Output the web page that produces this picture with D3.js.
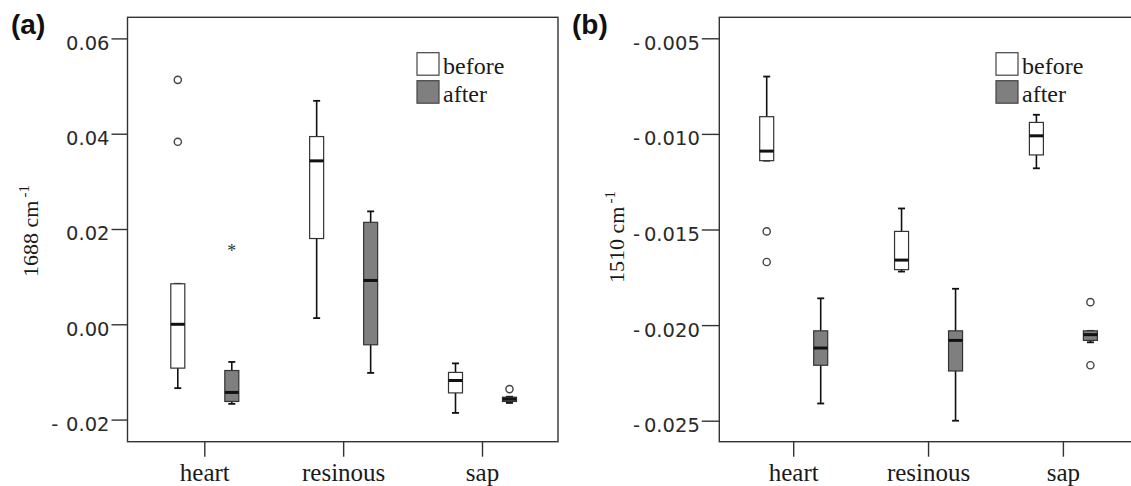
<!DOCTYPE html>
<html><head><meta charset="utf-8">
<script src="https://cdn.jsdelivr.net/npm/d3@7"></script>
<style>body{margin:0;background:#fff} svg{display:block}</style>
</head><body><svg id="c" width="1131" height="486"></svg>
<script>
const categories = ["heart","resinous","sap"];
const groups = ["before","after"];
// five-number summaries per category: [lower whisker, Q1, median, Q3, upper whisker]
const aBefore = [[-0.0134,-0.0092,0.0000,0.0085,0.0085],[0.0013,0.0180,0.0343,0.0394,0.0469],[-0.0186,-0.0144,-0.0118,-0.0101,-0.0082]];
const aAfter  = [[-0.0167,-0.0162,-0.0143,-0.0097,-0.0079],[-0.0102,-0.0043,0.0092,0.0214,0.0237],[-0.0165,-0.0162,-0.0157,-0.0153,-0.0152]];
const aOutliers = [["heart","before",0.0513,"circle"],["heart","before",0.0383,"circle"],["heart","after",0.0161,"star"],["sap","after",-0.0136,"circle"]];
const aTicks = [-0.02,0,0.02,0.04,0.06];
const aTickLabels = ["-\u2009\u20090.02","0.00","0.02","0.04","0.06"];
const bBefore = [[-0.0114,-0.0114,-0.0109,-0.0091,-0.0070],[-0.0172,-0.0171,-0.0166,-0.0151,-0.0139],[-0.0118,-0.0111,-0.0101,-0.0094,-0.0090]];
const bAfter  = [[-0.0241,-0.0221,-0.0212,-0.0203,-0.0186],[-0.0250,-0.0224,-0.0208,-0.0203,-0.0181],[-0.0209,-0.0208,-0.0205,-0.0203,-0.0203]];
const bOutliers = [["heart","before",-0.0151,"circle"],["heart","before",-0.0167,"circle"],["sap","after",-0.0188,"circle"],["sap","after",-0.0221,"circle"]];
const bTicks = [-0.025,-0.020,-0.015,-0.010,-0.005];
const bTickLabels = ["-\u20090.025","-\u20090.020","-\u20090.015","-\u20090.010","-\u20090.005"];

const svg = d3.select("#c");
const SERIF = "Liberation Serif, Times New Roman, serif";
const SANS = "DejaVu Sans, Verdana, sans-serif";

function panel(cfg, before, after, outliers, ticks, tickLabels) {
  const g = svg.append("g");
  const y = d3.scaleLinear().domain(cfg.yDomain).range([cfg.bottom, cfg.top]);
  const x = d3.scalePoint().domain(categories).range(cfg.xRange);
  const xo = d3.scalePoint().domain(groups).range([-26.5, 27.5]);

  g.append("rect").attr("x", cfg.left).attr("y", cfg.top)
    .attr("width", cfg.right - cfg.left).attr("height", cfg.bottom - cfg.top)
    .attr("fill", "#fff").attr("stroke", "#333").attr("stroke-width", 1.4);

  const ya = g.append("g").attr("transform", `translate(${cfg.left},0)`)
    .call(d3.axisLeft(y).tickValues(ticks).tickFormat((d, i) => tickLabels[i]).tickSize(cfg.tickLen).tickPadding(2));
  ya.select(".domain").remove();
  ya.selectAll("line").attr("stroke", "#333").attr("stroke-width", 1.4);
  ya.selectAll("text").attr("font-family", SANS).attr("font-size", 19.5).attr("fill", "#2a2a2a").attr("dy", "0.56em");

  const xa = g.append("g").attr("transform", `translate(0,${cfg.bottom})`)
    .call(d3.axisBottom(x).tickSize(15).tickPadding(6.5));
  xa.select(".domain").remove();
  xa.selectAll("line").attr("stroke", "#333").attr("stroke-width", 1.4);
  xa.selectAll("text").attr("font-family", SERIF).attr("font-size", 25).attr("fill", "#1a1a1a");

  [["before", before], ["after", after]].forEach(([grp, stats]) => {
    stats.forEach((s, i) => {
      const cx = x(categories[i]) + xo(grp);
      const [lo, q1, med, q3, hi] = s;
      const bg = g.append("g");
      bg.append("line").attr("x1", cx).attr("x2", cx).attr("y1", y(lo)).attr("y2", y(hi))
        .attr("stroke", "#111").attr("stroke-width", 1.6);
      [lo, hi].forEach(v => bg.append("line").attr("x1", cx - 3.5).attr("x2", cx + 3.5)
        .attr("y1", y(v)).attr("y2", y(v)).attr("stroke", "#111").attr("stroke-width", 1.8));
      bg.append("rect").attr("x", cx - 7).attr("y", y(q3)).attr("width", 14).attr("height", y(q1) - y(q3))
        .attr("fill", grp === "before" ? "#fff" : "#7f7f7f").attr("stroke", "#333").attr("stroke-width", 1.2);
      bg.append("line").attr("x1", cx - 7).attr("x2", cx + 7).attr("y1", y(med)).attr("y2", y(med))
        .attr("stroke", "#111").attr("stroke-width", 3);
    });
  });

  outliers.forEach(([cat, grp, v, shape]) => {
    const cx = x(cat) + xo(grp);
    if (shape === "circle") {
      g.append("circle").attr("cx", cx).attr("cy", y(v)).attr("r", 3.6)
        .attr("fill", "#fff").attr("stroke", "#444").attr("stroke-width", 1.4);
    } else {
      g.append("text").attr("x", cx).attr("y", y(v) + 9).attr("text-anchor", "middle")
        .attr("font-family", SERIF).attr("font-size", 18).attr("fill", "#333").text("*");
    }
  });

  // legend
  const lx = cfg.right - 141;
  groups.forEach((grp, i) => {
    const ly = 52.7 + i * 28;
    g.append("rect").attr("x", lx).attr("y", ly).attr("width", 22).attr("height", 22.5)
      .attr("fill", grp === "before" ? "#fff" : "#7f7f7f").attr("stroke", "#444").attr("stroke-width", 1.2);
    g.append("text").attr("x", lx + 26).attr("y", ly + 20.8).attr("font-family", SERIF)
      .attr("font-size", 24).attr("fill", "#1a1a1a").text(grp);
  });

  // y title
  const t = g.append("text").attr("transform", `translate(${cfg.titleX},${cfg.titleY}) rotate(-90)`)
    .attr("text-anchor", "middle").attr("font-family", SERIF).attr("font-size", 22).attr("fill", "#1a1a1a");
  t.append("tspan").text(cfg.title);
  t.append("tspan").attr("dy", -9).attr("dx", 3).attr("font-size", 15).text("-1");

  // panel letter
  g.append("text").attr("x", cfg.letterX).attr("y", 34).attr("font-family", "Liberation Sans, Arial, sans-serif")
    .attr("font-weight", "bold").attr("font-size", 28).attr("fill", "#111").text(cfg.letter);
}

panel({left: 127.5, right: 558, top: 17.3, bottom: 441.7, yDomain: [-0.02464, 0.06443], tickLen: 16,
       xRange: [204.3, 482], title: "1688 cm", titleX: 37.5, titleY: 231, letter: "(a)", letterX: 11},
      aBefore, aAfter, aOutliers, aTicks, aTickLabels);
panel({left: 719.3, right: 1137, top: 17.3, bottom: 441.7, yDomain: [-0.026098, -0.003902], tickLen: 17.5,
       xRange: [793.2, 1062.9], title: "1510 cm", titleX: 623.6, titleY: 237, letter: "(b)", letterX: 572},
      bBefore, bAfter, bOutliers, bTicks, bTickLabels);
</script></body></html>
